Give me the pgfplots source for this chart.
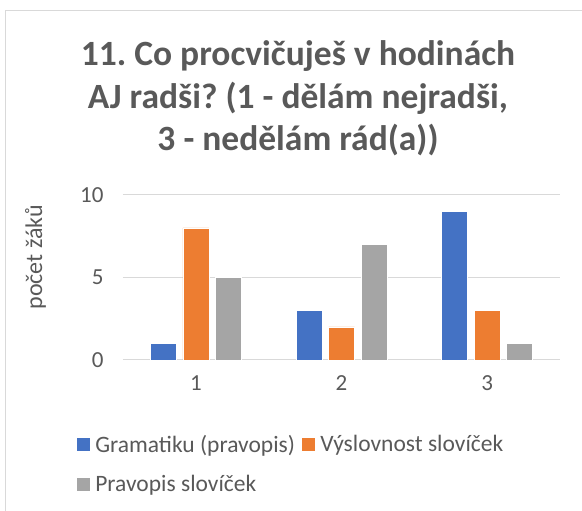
\documentclass[border=0pt]{standalone}
\usepackage{fontspec}
\setmainfont{Carlito}
\usepackage{pgfplots}
\pgfplotsset{compat=1.18}
\definecolor{CBlue}{HTML}{4472C4}
\definecolor{COrange}{HTML}{ED7D31}
\definecolor{CGray}{HTML}{A5A5A5}
\definecolor{CText}{HTML}{595959}
\definecolor{CGrid}{HTML}{D9D9D9}
\frenchspacing
\begin{document}
\begin{tikzpicture}
  \useasboundingbox (0pt,0pt) rectangle (582pt,511pt);
  \draw[CGrid,line width=1pt] (5pt,-5pt) -- (5pt,500pt) -- (600pt,500pt);
  \node[text=CText,font=\fontsize{35.5}{42.5}\selectfont\bfseries,align=center]
    at (298pt,412.5pt) {11. Co procvičuješ v hodinách\\AJ radši? (1 - dělám nejradši,\\3 - nedělám rád(a))};
  \begin{axis}[
      at={(123pt,151pt)}, anchor=south west,
      width=437pt, height=165pt, scale only axis,
      ybar=6.5pt, bar width=26pt,
      xmin=0.5, xmax=3.5, ymin=0, ymax=10,
      xtick={1,2,3}, ytick={0,5,10},
      axis x line*=bottom, axis y line*=left,
      x axis line style={CGrid,line width=1pt,-},
      y axis line style={draw=none},
      major tick length=0pt,
      ymajorgrids, grid style={CGrid,line width=1pt},
      /pgf/number format/assume math mode=true,
      ticklabel style={font=\fontsize{23}{27}\selectfont,text=CText},
      xticklabel style={yshift=-12pt},
      yticklabel style={xshift=-16pt},
      ylabel={počet žáků},
      ylabel style={font=\fontsize{24}{27}\selectfont,text=CText,
        at={(axis description cs:-0.2,0.624)},anchor=center},
      legend columns=2,
      legend style={at={(axis description cs:-0.115,-0.43)},anchor=north west,
        draw=none,fill=none,font=\fontsize{23.5}{27}\selectfont,text=CText,
        /tikz/every odd column/.append style={column sep=3pt},
        /tikz/every even column/.append style={column sep=4pt},
        row sep=17pt,cells={anchor=west}},
      legend image code/.code={\fill[#1] (0pt,-7pt) rectangle (14pt,7pt);},
    ]
    \addplot[fill=CBlue,draw=white,line width=0.4pt] coordinates {(1,1) (2,3) (3,9)};
    \addplot[fill=COrange,draw=white,line width=0.4pt] coordinates {(1,8) (2,2) (3,3)};
    \addplot[fill=CGray,draw=white,line width=0.4pt] coordinates {(1,5) (2,7) (3,1)};
    \legend{Gramatiku (pravopis),Výslovnost slovíček,Pravopis slovíček}
  \end{axis}
\end{tikzpicture}
\end{document}
